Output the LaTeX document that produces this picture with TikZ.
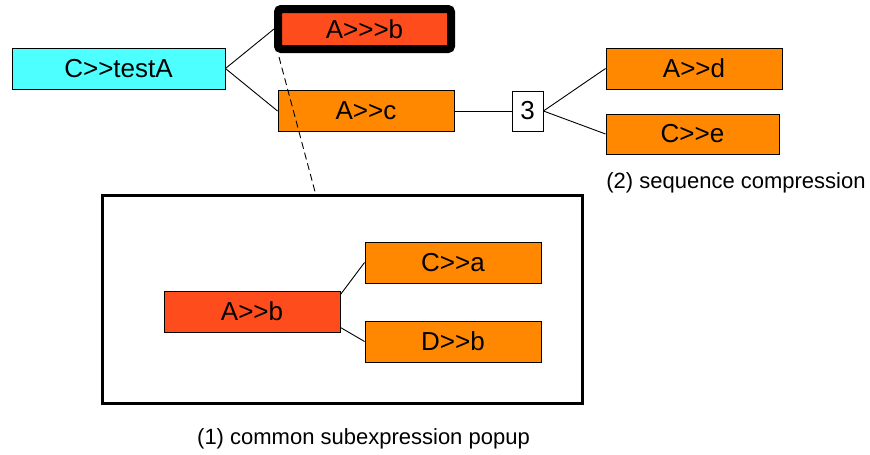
\documentclass[tikz,border=0pt]{standalone}
\usepackage{fontspec}
\setmainfont{Liberation Sans}[Ligatures=TeXOff]
\usepackage{tikz}
\definecolor{callcyan}{RGB}{77,255,255}
\definecolor{callred}{RGB}{255,76,28}
\definecolor{callorange}{RGB}{255,136,0}
\usetikzlibrary{positioning}

\begin{document}
\begin{tikzpicture}[x=1pt,y=-1pt,
        call/.style={draw, line width=0.9pt, minimum width=176pt, minimum height=41pt,
            inner sep=0pt, font=\fontsize{26}{30}\selectfont},
        caption/.style={font=\fontsize{22}{26}\selectfont}]
        \useasboundingbox (0,0) rectangle (870,455);

        % popup frame
        \node[draw, line width=3pt, minimum width=480pt, minimum height=208pt, inner sep=0pt] (popup) at (342,299) {};

        \node[call, fill=callcyan, minimum width=213pt] (testA) at (118.5,68.5) {C>>testA};
        \node[call, fill=callred, line width=8pt, rounded corners=3pt, minimum width=173pt, minimum height=40pt] (Abbb) at (364.5,29) {A>>>b};
        \node[call, fill=callorange] (Ac) at (366,111) {A>>c};
        \node[call, fill=white, minimum width=31pt, minimum height=40pt] (three) at (527.5,111) {3};
        \node[call, fill=callorange] (Ad) at (694,68.5) {A>>d};
        \node[call, fill=callorange, minimum width=173pt, minimum height=40pt] (Ce) at (692.5,134) {C>>e};

        \node[call, fill=callred] (Ab) at (252,311.5) {A>>b};
        \node[call, fill=callorange] (Ca) at (453,262.5) {C>>a};
        \node[call, fill=callorange] (Db) at (453,341.5) {D>>b};

        \draw[line width=0.9pt] (testA.east) -- (Abbb.west);
        \draw[line width=0.9pt] (testA.east) -- (Ac.west);
        \draw[line width=0.9pt] (Ac.east) -- (three.west);
        \draw[line width=0.9pt] (three.east) -- (Ad.west);
        \draw[line width=0.9pt] (three.east) -- (Ce.west);
        \draw[line width=0.9pt] ([yshift=-4pt]Ab.north east) -- (Ca.west);
        \draw[line width=0.9pt] ([yshift=5pt]Ab.south east) -- (Db.west);

        \draw[line width=0.9pt, dash pattern=on 7pt off 4pt] ([xshift=5pt,yshift=-4pt]Abbb.south west) -- ([xshift=215pt]popup.north west);

        \node[caption] (seqnote) at (736,183) {(2) sequence compression};
        \node[caption] (popnote) at (363.5,439) {(1) common subexpression popup};
    \end{tikzpicture}
\end{document}
